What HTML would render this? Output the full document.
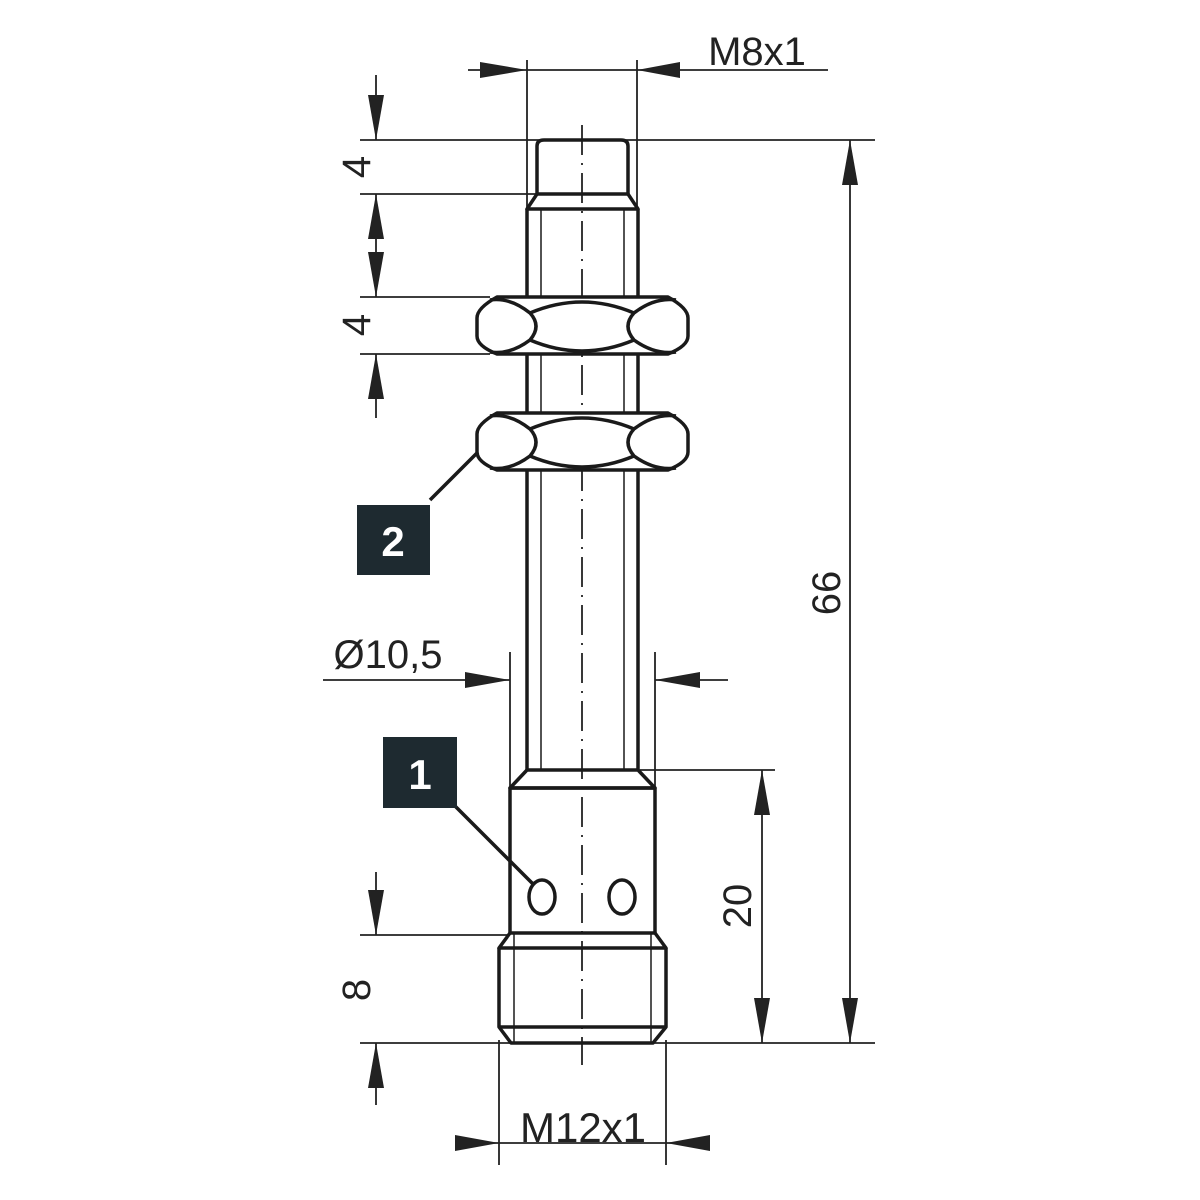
<!DOCTYPE html>
<html><head><style>body{margin:0;background:#fff}svg{display:block}text{font-family:"Liberation Sans",sans-serif;fill:#222}</style></head><body>
<svg width="1200" height="1200" viewBox="0 0 1200 1200" xmlns="http://www.w3.org/2000/svg">
<g stroke="#222" stroke-width="1.8" fill="none">
<line x1="527" y1="60" x2="527" y2="210"/><line x1="637" y1="60" x2="637" y2="210"/>
<line x1="360" y1="140" x2="875" y2="140"/>
<line x1="360" y1="194" x2="537" y2="194"/>
<line x1="360" y1="297" x2="490" y2="297"/>
<line x1="360" y1="354" x2="490" y2="354"/>
<line x1="640" y1="770" x2="775" y2="770"/>
<line x1="360" y1="1043" x2="875" y2="1043"/>
<line x1="360" y1="935" x2="510" y2="935"/>
<line x1="510" y1="652" x2="510" y2="790"/><line x1="655" y1="652" x2="655" y2="790"/>
<line x1="499" y1="1040" x2="499" y2="1165"/><line x1="666" y1="1040" x2="666" y2="1165"/>
<line x1="468" y1="70" x2="828" y2="70"/>
<path d="M680,62 L637,70 L680,78z" fill="#222" stroke="none"/>
<path d="M480,62 L527,70 L480,78z" fill="#222" stroke="none"/>
<line x1="376" y1="75" x2="376" y2="140"/><path d="M368,95 L376,140 L384,95z" fill="#222" stroke="none"/>
<line x1="376" y1="194" x2="376" y2="297"/>
<path d="M368,239 L376,194 L384,239z" fill="#222" stroke="none"/>
<path d="M368,252 L376,297 L384,252z" fill="#222" stroke="none"/>
<line x1="376" y1="354" x2="376" y2="418"/><path d="M368,399 L376,354 L384,399z" fill="#222" stroke="none"/>
<line x1="376" y1="872" x2="376" y2="935"/><path d="M368,890 L376,935 L384,890z" fill="#222" stroke="none"/>
<line x1="376" y1="1043" x2="376" y2="1105"/><path d="M368,1088 L376,1043 L384,1088z" fill="#222" stroke="none"/>
<line x1="850" y1="140" x2="850" y2="1043"/>
<path d="M842,185 L850,140 L858,185z" fill="#222" stroke="none"/>
<path d="M842,998 L850,1043 L858,998z" fill="#222" stroke="none"/>
<line x1="762" y1="770" x2="762" y2="1043"/>
<path d="M754,815 L762,770 L770,815z" fill="#222" stroke="none"/>
<path d="M754,998 L762,1043 L770,998z" fill="#222" stroke="none"/>
<line x1="323" y1="680" x2="510" y2="680"/>
<path d="M465,672 L510,680 L465,688z" fill="#222" stroke="none"/>
<line x1="655" y1="680" x2="728" y2="680"/>
<path d="M700,672 L655,680 L700,688z" fill="#222" stroke="none"/>
<line x1="455" y1="1143" x2="710" y2="1143"/>
<path d="M455,1135 L499,1143 L455,1151z" fill="#222" stroke="none"/>
<path d="M710,1135 L666,1143 L710,1151z" fill="#222" stroke="none"/>
<line x1="582" y1="125" x2="582" y2="1065" stroke-dasharray="30,8,2,8"/>
</g>
<g stroke="#1a1a1a" stroke-width="3.5" fill="none" stroke-linejoin="round">
<path d="M537,194 L537,146 Q537,140 544,140 L621,140 Q628,140 628,146 L628,194"/>
<line x1="537" y1="194" x2="628" y2="194"/>
<path d="M537,194 L527,209 L638,209 L628,194"/>
<line x1="527" y1="209" x2="527" y2="770"/><line x1="638" y1="209" x2="638" y2="770"/>
<path d="M527,770 L510,788 L655,788 L638,770 Z"/>
<rect x="510" y="788" width="145" height="145"/>
<path d="M510,933 L499,948 L666,948 L655,933"/>
<path d="M499,948 L499,1027 L511,1043 L653,1043 L666,1027 L666,948"/>
<line x1="499" y1="1027" x2="666" y2="1027"/>
<ellipse cx="542" cy="897" rx="13" ry="17"/>
<ellipse cx="622" cy="897" rx="13" ry="17"/>
</g>
<g stroke="#1a1a1a" stroke-width="1.5">
<line x1="541" y1="209" x2="541" y2="770"/><line x1="624" y1="209" x2="624" y2="770"/>
<line x1="514" y1="933" x2="514" y2="1043"/><line x1="651" y1="933" x2="651" y2="1043"/>
</g>
<g stroke="#1a1a1a" stroke-width="3.5" fill="#fff" stroke-linejoin="round">
<g id="nut">
<path d="M497,297 L668,297 Q688,308 688,318 L688,336 Q688,346 668,354 L497,354 Q477,346 477,336 L477,318 Q477,308 497,297 Z"/>
<path d="M530,313 Q510,297 490,300 M530,313 Q542,326 530,340 Q510,355 490,352" fill="none"/>
<path d="M634,313 Q655,297 676,300 M634,313 Q622,326 634,340 Q655,355 676,352" fill="none"/>
<path d="M530,313 Q582,291 634,313 M530,340 Q582,362 634,340" fill="none"/>
</g>
<use href="#nut" transform="translate(0,116)"/>
</g>
<g stroke="#1a1a1a" stroke-width="3.5"><line x1="430" y1="500" x2="478" y2="452"/><line x1="455" y1="806" x2="533" y2="884"/></g>
<rect x="357" y="505" width="73" height="70" fill="#1e2a30"/>
<text x="393" y="556" font-size="42" font-weight="bold" text-anchor="middle" style="fill:#fff">2</text>
<rect x="383" y="737" width="74" height="71" fill="#1e2a30"/>
<text x="420" y="789" font-size="42" font-weight="bold" text-anchor="middle" style="fill:#fff">1</text>
<text x="757" y="65" font-size="40" text-anchor="middle">M8x1</text>
<text x="388" y="668" font-size="40" text-anchor="middle">Ø10,5</text>
<text x="583" y="1142" font-size="42" text-anchor="middle">M12x1</text>
<text transform="translate(370,167) rotate(-90)" font-size="40" text-anchor="middle">4</text>
<text transform="translate(370,325) rotate(-90)" font-size="40" text-anchor="middle">4</text>
<text transform="translate(370,990) rotate(-90)" font-size="40" text-anchor="middle">8</text>
<text transform="translate(840,593) rotate(-90)" font-size="40" text-anchor="middle">66</text>
<text transform="translate(751,906) rotate(-90)" font-size="40" text-anchor="middle">20</text>
</svg>
</body></html>
